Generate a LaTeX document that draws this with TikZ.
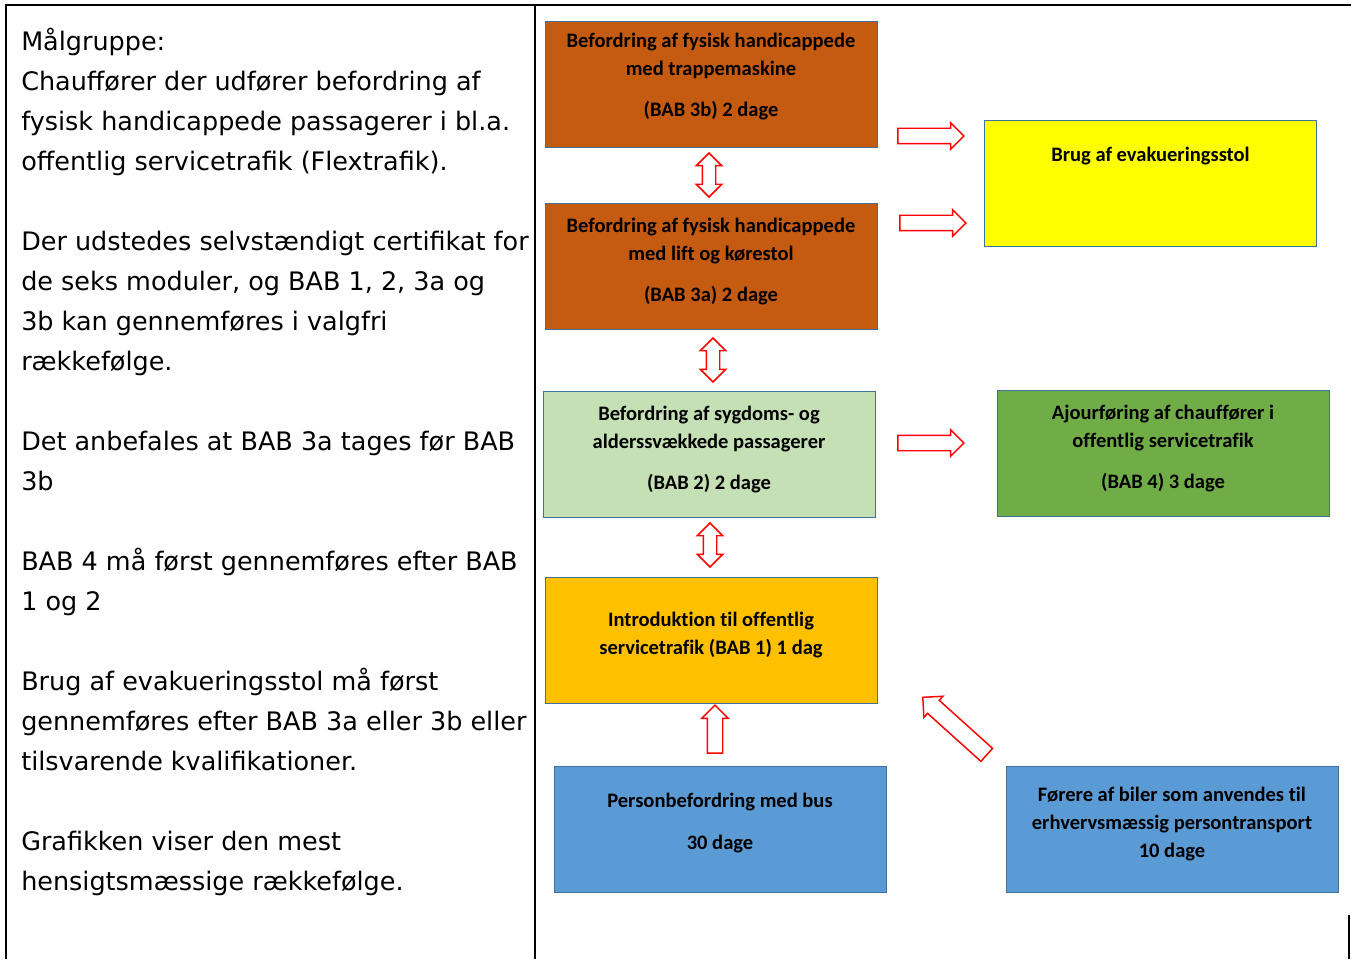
\documentclass[tikz,border=0pt]{standalone}
\usepackage{fontspec}
\setmainfont{DejaVu Sans}
\newfontfamily\boxfont{Carlito}[Ligatures=NoCommon]
\usetikzlibrary{shapes.arrows}

\definecolor{babbrun}{HTML}{C55A11}
\definecolor{babgroen}{HTML}{C5E0B4}
\definecolor{babgul}{HTML}{FFC000}
\definecolor{babblaa}{HTML}{5B9BD5}
\definecolor{evakgul}{HTML}{FFFF00}
\definecolor{ajourgroen}{HTML}{70AD47}
\definecolor{kant}{HTML}{41719C}
\definecolor{pil}{HTML}{FF0000}

\tikzset{
  modul/.style={draw=kant, line width=0.7pt, minimum width=249pt, minimum height=94.5pt, inner sep=0pt},
  modtekst/.style={anchor=base, align=center, font=\boxfont\bfseries\fontsize{15.4pt}{21pt}\selectfont},
  hpil/.style={single arrow, draw=pil, fill=white, line width=1.1pt, minimum height=49.5pt,
    minimum width=18.75pt, inner sep=5.25pt, single arrow head extend=4.1pt},
  dpil/.style={double arrow, draw=pil, fill=white, line width=1.1pt, rotate=90, minimum height=33pt,
    minimum width=18pt, inner sep=4.5pt, double arrow head extend=4.5pt},
}

\begin{document}
\begin{tikzpicture}[x=0.75pt,y=-0.75pt]

	%Background
	\useasboundingbox (0,0) rectangle (1351,959);
	\fill[white] (0,0) rectangle (1351,959);

	%Frame
	\draw[line width=1.5pt] (6,959) -- (6,5) -- (1351,5);
	\draw[line width=1.2pt] (535,5) -- (535,959);
	\draw[line width=0.8pt] (1349,915) -- (1349,959);

	%Left column (base = last line)
	\node[anchor=base west, align=left, inner sep=0pt, font=\fontsize{19.1pt}{30pt}\selectfont] (info) at (21,890)
	{M\aa lgruppe:\\
	Chauff\o rer der udf\o rer befordring af\\
	fysisk handicappede passagerer i bl.a.\\
	offentlig servicetrafik (Flextrafik).\\[30pt]
	Der udstedes selvst\ae ndigt certifikat for\\
	de seks moduler, og BAB 1, 2, 3a og\\
	3b kan gennemf\o res i valgfri\\
	r\ae kkef\o lge.\\[30pt]
	Det anbefales at BAB 3a tages f\o r BAB\\
	3b\\[30pt]
	BAB 4 m\aa{} f\o rst gennemf\o res efter BAB\\
	1 og 2\\[30pt]
	Brug af evakueringsstol m\aa{} f\o rst\\
	gennemf\o res efter BAB 3a eller 3b eller\\
	tilsvarende kvalifikationer.\\[30pt]
	Grafikken viser den mest\\
	hensigtsm\ae ssige r\ae kkef\o lge.};

	%BAB 3b
	\node[modul, fill=babbrun] (b3b) at (711,84) {};
	\node[modtekst] (t3b) at (711,117) {Befordring af fysisk handicappede\\med trappemaskine\\[9.75pt](BAB 3b) 2 dage};

	%BAB 3a
	\node[modul, fill=babbrun] (b3a) at (711,266.5) {};
	\node[modtekst] (t3a) at (711,301) {Befordring af fysisk handicappede\\med lift og k\o restol\\[9.75pt](BAB 3a) 2 dage};

	%BAB 2
	\node[modul, fill=babgroen] (b2) at (709,454) {};
	\node[modtekst] (t2) at (709,489) {Befordring af sygdoms- og\\alderssv\ae kkede passagerer\\[9.75pt](BAB 2) 2 dage};

	%BAB 1
	\node[modul, fill=babgul] (b1) at (711,640) {};
	\node[modtekst] (t1) at (711,654) {Introduktion til offentlig\\servicetrafik (BAB 1) 1 dag};

	%Bus
	\node[modul, fill=babblaa] (bbus) at (720,829) {};
	\node[modtekst] (tbus) at (720,849) {Personbefordring med bus\\[10.5pt]30 dage};

	%Evakueringsstol
	\node[modul, fill=evakgul] (bevak) at (1150.5,183) {};
	\node[modtekst] (tevak) at (1150.5,162) {Brug af evakueringsstol};

	%BAB 4
	\node[modul, fill=ajourgroen] (b4) at (1163,453) {};
	\node[modtekst] (t4) at (1163,488) {Ajourf\o ring af chauff\o rer i\\offentlig servicetrafik\\[9.75pt](BAB 4) 3 dage};

	%Foerere
	\node[modul, fill=babblaa] (bfor) at (1172,829) {};
	\node[modtekst] (tfor) at (1172,857) {F\o rere af biler som anvendes til\\erhvervsm\ae ssig persontransport\\10 dage};

	%Arrows
	\node[dpil] (d1) at (709,175) {};
	\node[dpil] (d2) at (713,360) {};
	\node[dpil] (d3) at (710,545) {};
	\node[hpil, rotate=90, minimum height=36pt] (u1) at (715,733) {};
	\node[hpil] (r1) at (927,136) {};
	\node[hpil] (r2) at (929,223) {};
	\node[hpil] (r3) at (927,443) {};
	\node[hpil, rotate=138, minimum height=64.5pt, inner sep=6pt] (g1) at (958,729) {};

\end{tikzpicture}
\end{document}
